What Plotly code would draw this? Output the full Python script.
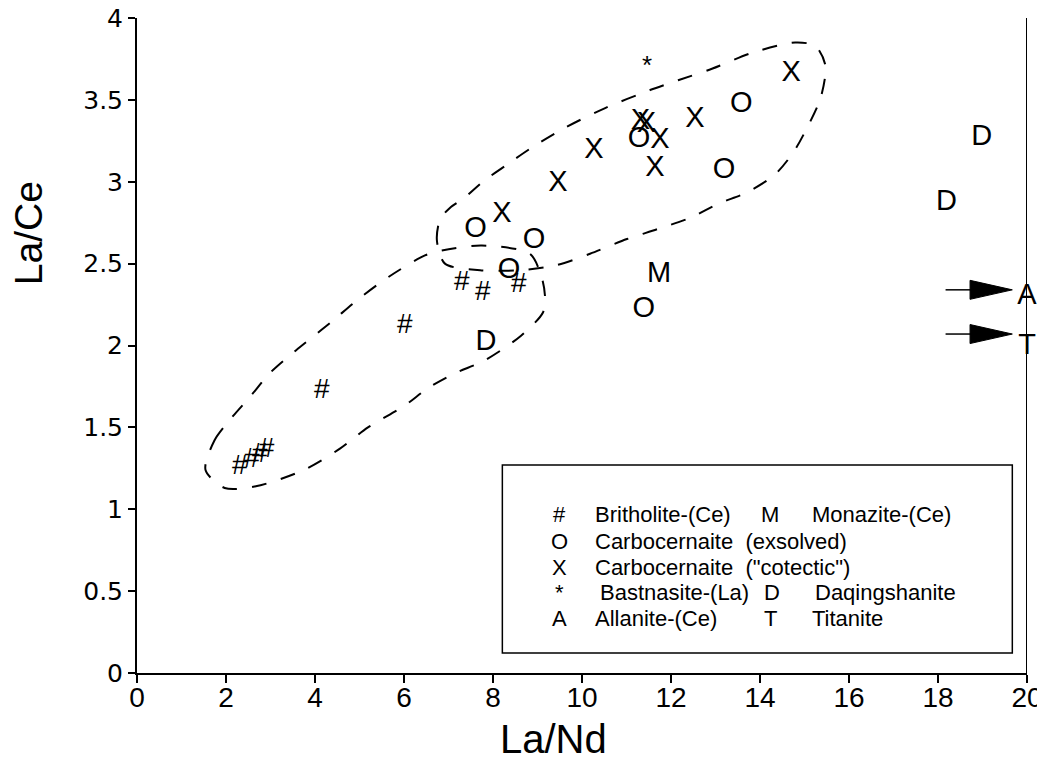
import plotly.graph_objects as go

# ---------------- data ----------------
brith_x = [2.31, 2.58, 2.76, 2.91, 4.15, 6.02, 7.30, 7.77, 8.58]
brith_y = [1.29, 1.33, 1.36, 1.39, 1.75, 2.15, 2.41, 2.35, 2.40]

exs_x = [7.61, 8.92, 8.36, 11.28, 13.58, 13.19, 11.39]
exs_y = [2.74, 2.67, 2.49, 3.29, 3.50, 3.10, 2.25]

cot_x = [8.20, 9.46, 10.27, 11.31, 11.45, 11.75, 11.64, 12.54, 14.70]
cot_y = [2.83, 3.02, 3.22, 3.40, 3.38, 3.28, 3.11, 3.41, 3.69]

bast_x = [11.46]
bast_y = [3.73]

mon_x = [11.73]
mon_y = [2.46]

daq_x = [7.84, 18.98, 18.19]
daq_y = [2.05, 3.30, 2.90]

all_x = [20.0]
all_y = [2.33]

tit_x = [20.0]
tit_y = [2.02]

# hand-drawn dashed field outlines
lower_x = [1.54, 1.74, 2.13, 2.55, 2.98, 3.57, 4.35, 4.96, 5.66, 6.47, 6.85, 7.75, 8.83,
           9.10, 9.17, 9.12, 8.63, 7.82, 7.14, 6.54, 6.00, 5.19, 4.56, 3.75, 2.67, 1.97, 1.54]
lower_y = [1.24, 1.42, 1.56, 1.69, 1.83, 1.97, 2.14, 2.28, 2.42, 2.55, 2.58, 2.61, 2.56,
           2.41, 2.29, 2.20, 2.06, 1.91, 1.83, 1.74, 1.63, 1.50, 1.37, 1.24, 1.14, 1.13, 1.24]

upper_x = [6.92, 6.74, 6.81, 7.03, 7.35, 7.77, 8.29, 8.88, 9.62, 10.52, 11.53, 12.16, 12.92,
           13.85, 14.79, 15.24, 15.47, 15.36, 15.04, 14.75, 14.32, 13.67, 13.10, 12.43, 11.69,
           11.01, 10.18, 9.42, 8.61, 7.71, 6.92]
upper_y = [2.50, 2.64, 2.77, 2.84, 2.90, 3.00, 3.10, 3.21, 3.33, 3.45, 3.56, 3.62, 3.69,
           3.79, 3.85, 3.83, 3.71, 3.51, 3.32, 3.18, 3.04, 2.93, 2.87, 2.78, 2.71,
           2.65, 2.56, 2.49, 2.46, 2.46, 2.50]

# arrows pointing at the off-scale Allanite / Titanite values
arrow_y = [2.34, 2.07]
arrow_x0 = 18.17
arrow_xh = 18.72
arrow_x1 = 19.67
arrow_half = 0.058

x_ticks = [0, 2, 4, 6, 8, 10, 12, 14, 16, 18, 20]
y_ticks = [0, 0.5, 1, 1.5, 2, 2.5, 3, 3.5, 4]
y_tick_text = ["0", "0.5", "1", "1.5", "2", "2.5", "3", "3.5", "4"]

legend_rows = [
    ("#", "Britholite-(Ce)", "M", "Monazite-(Ce)"),
    ("O", "Carbocernaite  (exsolved)", None, None),
    ("X", "Carbocernaite  (\"cotectic\")", None, None),
    ("*", "Bastnasite-(La)", "D", "Daqingshanite"),
    ("A", "Allanite-(Ce)", "T", "Titanite"),
]

# ---------------- figure ----------------
FONT = "Liberation Sans, Arial, sans-serif"
PX_PER_Y = 655 / 4.0
GLYPH_DY = 5 / PX_PER_Y   # text boxes centre slightly above the capital letters

fig = go.Figure()

for xs, ys in [(lower_x, lower_y), (upper_x, upper_y)]:
    fig.add_trace(go.Scatter(x=xs, y=ys, mode="lines",
                             line=dict(color="black", width=2, dash="15px,15px", shape="spline",
                                       smoothing=0.8),
                             hoverinfo="skip", showlegend=False))

def sym(xs, ys, ch, size=29):
    fig.add_trace(go.Scatter(x=xs, y=[v - GLYPH_DY for v in ys], mode="text",
                             text=[ch] * len(xs), textposition="middle center",
                             textfont=dict(family=FONT, size=size, color="black"),
                             cliponaxis=False, showlegend=False))

sym(brith_x, brith_y, "#", 28)
sym(exs_x, exs_y, "O")
sym(cot_x, cot_y, "X")
sym(bast_x, bast_y, "*", 26)
sym(mon_x, mon_y, "M")
sym(daq_x, daq_y, "D")
sym(all_x, all_y, "A")
sym(tit_x, tit_y, "T")

shapes = []
for ay in arrow_y:
    shapes.append(dict(type="line", xref="x", yref="y", x0=arrow_x0, x1=arrow_xh + 0.1,
                       y0=ay, y1=ay, line=dict(color="black", width=1.5)))
    shapes.append(dict(type="path", xref="x", yref="y",
                       path=f"M {arrow_xh},{ay + arrow_half} L {arrow_x1},{ay} L {arrow_xh},{ay - arrow_half} Z",
                       fillcolor="black", line=dict(color="black", width=1)))

# right border
shapes.append(dict(type="line", xref="x", yref="y", x0=20, x1=20, y0=0, y1=4,
                   line=dict(color="black", width=2)))

# legend box
shapes.append(dict(type="rect", xref="x", yref="y", x0=8.21, x1=19.67, y0=0.122, y1=1.27,
                   line=dict(color="black", width=1.5), fillcolor="rgba(0,0,0,0)"))

annotations = []
row_y = [0.966, 0.806, 0.642, 0.489, 0.330]
LF = 22
for (s1, t1, s2, t2), ry in zip(legend_rows, row_y):
    annotations.append(dict(x=9.50, y=ry, xref="x", yref="y", text=s1, showarrow=False,
                            xanchor="center", font=dict(family=FONT, size=LF, color="black")))
    tx = 10.36 if s1 == "*" else 10.25
    annotations.append(dict(x=tx, y=ry, xref="x", yref="y", text=t1, showarrow=False,
                            xanchor="left", font=dict(family=FONT, size=LF, color="black")))
    if s2:
        sx = 14.27 if s2 == "D" else 14.23
        annotations.append(dict(x=sx, y=ry, xref="x", yref="y", text=s2, showarrow=False,
                                xanchor="center", font=dict(family=FONT, size=LF, color="black")))
        tx2 = 15.20 if s2 == "D" else 15.13
        annotations.append(dict(x=tx2, y=ry, xref="x", yref="y", text=t2, showarrow=False,
                                xanchor="left", font=dict(family=FONT, size=LF, color="black")))

# axis titles
annotations.append(dict(x=-0.121, y=0.672, xref="paper", yref="paper", text="La/Ce",
                        textangle=-90, showarrow=False, xanchor="center", yanchor="middle",
                        font=dict(family=FONT, size=39, color="black")))
annotations.append(dict(x=0.4685, y=-0.100, xref="paper", yref="paper", text="La/Nd",
                        showarrow=False, xanchor="center", yanchor="middle",
                        font=dict(family=FONT, size=40, color="black")))

# page places the figure with a small body offset; margins compensate for it
fig.update_layout(
    width=1037, height=755,
    margin=dict(l=129, r=18, t=10, b=90),
    paper_bgcolor="white", plot_bgcolor="white",
    shapes=shapes, annotations=annotations,
    showlegend=False,
)

fig.update_xaxes(range=[0, 20], tickvals=x_ticks, ticktext=[str(v) for v in x_ticks],
                 showgrid=False, zeroline=False, showline=True, linecolor="black", linewidth=2,
                 ticks="outside", ticklen=8, tickwidth=1.5, tickcolor="black",
                 tickfont=dict(family=FONT, size=28, color="black"), automargin=False,
                 ticklabeloverflow="allow", ticklabelstandoff=-10)
fig.update_yaxes(range=[0, 4], tickvals=y_ticks, ticktext=y_tick_text,
                 showgrid=False, zeroline=False, showline=True, linecolor="black", linewidth=2,
                 ticks="outside", ticklen=7, tickwidth=1.5, tickcolor="black",
                 tickfont=dict(family="DejaVu Sans, sans-serif", size=25, color="black"),
                 automargin=False, ticklabeloverflow="allow")

fig.write_html("out.html")
